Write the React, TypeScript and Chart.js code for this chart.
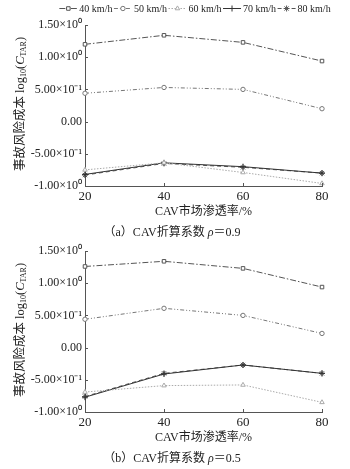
import React, { useEffect, useRef } from 'react';
import { Chart, registerables } from 'chart.js';
Chart.register(...registerables);

const categories = ['20', '40', '60', '80'];
const seriesNames = ['40 km/h', '50 km/h', '60 km/h', '70 km/h', '80 km/h'];
const yTickValues = [-1, -0.5, 0, 0.5, 1, 1.5];
const yTickLabels = ['-1.00×10⁰', '-5.00×10⁻¹', '0.00', '5.00×10⁻¹', '1.00×10⁰', '1.50×10⁰'];

// panel (a) rho = 0.9
const a40 = [1.2, 1.34, 1.23, 0.94];
const a50 = [0.44, 0.53, 0.5, 0.2];
const a60 = [-0.75, -0.64, -0.79, -0.96];
const a70 = [-0.82, -0.64, -0.7, -0.8];
const a80 = [-0.83, -0.65, -0.71, -0.8];

// panel (b) rho = 0.5
const b40 = [1.26, 1.34, 1.23, 0.94];
const b50 = [0.44, 0.61, 0.5, 0.22];
const b60 = [-0.69, -0.59, -0.58, -0.85];
const b70 = [-0.77, -0.41, -0.27, -0.4];
const b80 = [-0.76, -0.4, -0.27, -0.4];

const xTitle = 'CAV市场渗透率/%';
const captionA = ['（a）CAV折算系数 ', 'ρ', '＝0.9'];
const captionB = ['（b）CAV折算系数 ', 'ρ', '＝0.5'];

const SERIF = '"Liberation Serif", "Noto Sans CJK SC", serif';
const TEXT = '#222';
const AXIS = '#555';

const styles = [
  { color: '#555', dash: [6, 2, 1.5, 2], point: 'rect', r: 2.5 },
  { color: '#777', dash: [4, 2, 1, 2, 1, 2], point: 'circle', r: 2.2 },
  { color: '#aaa', dash: [1.5, 1.5], point: 'triangle', r: 2.6 },
  { color: '#333', dash: [], point: 'cross', r: 3 },
  { color: '#555', dash: [4, 3], point: 'star', r: 3 },
];

function drawMarker(ctx: CanvasRenderingContext2D, kind: string, cx: number, cy: number, r: number, color: string) {
  ctx.save();
  ctx.setLineDash([]);
  ctx.strokeStyle = color;
  ctx.fillStyle = '#fff';
  ctx.lineWidth = 1;
  ctx.beginPath();
  if (kind === 'rect') {
    const s = r * Math.SQRT1_2;
    ctx.rect(cx - s, cy - s, 2 * s, 2 * s);
    ctx.fill(); ctx.stroke();
  } else if (kind === 'circle') {
    ctx.arc(cx, cy, r, 0, Math.PI * 2);
    ctx.fill(); ctx.stroke();
  } else if (kind === 'triangle') {
    ctx.moveTo(cx, cy - r);
    ctx.lineTo(cx + r * 0.87, cy + r * 0.5);
    ctx.lineTo(cx - r * 0.87, cy + r * 0.5);
    ctx.closePath();
    ctx.fill(); ctx.stroke();
  } else if (kind === 'cross') {
    ctx.moveTo(cx, cy - r); ctx.lineTo(cx, cy + r);
    ctx.moveTo(cx - r, cy); ctx.lineTo(cx + r, cy);
    ctx.stroke();
  } else if (kind === 'star') {
    ctx.moveTo(cx, cy - r); ctx.lineTo(cx, cy + r);
    ctx.moveTo(cx - r, cy); ctx.lineTo(cx + r, cy);
    const d = r * 0.7;
    ctx.moveTo(cx - d, cy - d); ctx.lineTo(cx + d, cy + d);
    ctx.moveTo(cx - d, cy + d); ctx.lineTo(cx + d, cy - d);
    ctx.stroke();
  }
  ctx.restore();
}

const legendPlugin = {
  id: 'customLegend',
  afterDraw(chart: any) {
    const ctx: CanvasRenderingContext2D = chart.ctx;
    ctx.save();
    ctx.font = '10px ' + SERIF;
    ctx.textBaseline = 'middle';
    const symW = 18, gap = 2, spacing = 1.5;
    const widths = seriesNames.map((n) => symW + gap + ctx.measureText(n).width);
    const total = widths.reduce((s, w) => s + w, 0) + spacing * (widths.length - 1);
    let x = 195 - total / 2;
    const y = 8;
    seriesNames.forEach((name, i) => {
      const st = styles[i];
      ctx.strokeStyle = st.color;
      ctx.lineWidth = 1;
      ctx.setLineDash(st.dash);
      ctx.beginPath();
      ctx.moveTo(x, y + 0.5);
      ctx.lineTo(x + symW, y + 0.5);
      ctx.stroke();
      ctx.setLineDash([]);
      drawMarker(ctx, st.point, x + symW / 2, y + 0.5, st.r, st.color);
      ctx.fillStyle = TEXT;
      ctx.fillText(name, x + symW + gap, y + 1);
      x += widths[i] + spacing;
    });
    ctx.restore();
  },
};

const axisExtrasPlugin = {
  id: 'axisExtras',
  afterDraw(chart: any) {
    const ctx: CanvasRenderingContext2D = chart.ctx;
    const { left, bottom, top } = chart.chartArea;
    const xs = chart.scales.x;
    const ys = chart.scales.y;
    ctx.save();
    ctx.strokeStyle = AXIS;
    ctx.lineWidth = 1;
    ctx.setLineDash([]);
    ctx.beginPath();
    ys.ticks.forEach((t: any) => {
      const py = Math.round(ys.getPixelForValue(t.value)) + 0.5;
      ctx.moveTo(left, py);
      ctx.lineTo(left + 3, py);
    });
    xs.ticks.forEach((_t: any, i: number) => {
      const px = Math.round(xs.getPixelForTick(i)) + 0.5;
      ctx.moveTo(px, bottom);
      ctx.lineTo(px, bottom - 3);
    });
    ctx.stroke();

    // y-axis title with subscripts
    const big = '12.5px ' + SERIF;
    const small = '8px ' + SERIF;
    const parts = [
      { t: '事故风险成本 ', f: big, dy: 0 },
      { t: 'log', f: big, dy: 0 },
      { t: '10', f: small, dy: 3 },
      { t: '(', f: big, dy: 0 },
      { t: 'C', f: 'italic ' + big, dy: 0 },
      { t: 'TAR', f: small, dy: 3 },
      { t: ')', f: big, dy: 0 },
    ];
    let total = 0;
    const ws = parts.map((p) => { ctx.font = p.f; const w = ctx.measureText(p.t).width; total += w; return w; });
    ctx.translate(21, (top + bottom) / 2 - 1.5);
    ctx.rotate(-Math.PI / 2);
    ctx.fillStyle = TEXT;
    ctx.textBaseline = 'middle';
    let x = -total / 2;
    parts.forEach((p, i) => {
      ctx.font = p.f;
      ctx.fillText(p.t, x, p.dy);
      x += ws[i];
    });
    ctx.restore();
  },
};

function Panel({ series, showLegend, top }: { series: number[][]; showLegend: boolean; top: number }) {
  const ref = useRef<HTMLCanvasElement>(null);
  useEffect(() => {
    const datasets = series.map((data, i) => ({
      label: seriesNames[i],
      data,
      borderColor: styles[i].color,
      borderWidth: 1,
      borderDash: styles[i].dash,
      pointStyle: styles[i].point,
      pointRadius: styles[i].r,
      pointBorderColor: styles[i].color,
      pointBackgroundColor: '#fff',
      pointBorderWidth: 1,
      tension: 0,
      fill: false,
    }));
    const chart = new Chart(ref.current as HTMLCanvasElement, {
      type: 'line',
      data: { labels: categories, datasets },
      options: {
        responsive: false,
        animation: false,
        events: [],
        layout: { padding: { top: 25, right: 28, left: 0, bottom: 0 } },
        plugins: { legend: { display: false }, tooltip: { enabled: false } },
        scales: {
          x: {
            type: 'category',
            offset: false,
            grid: { display: false, drawTicks: false },
            border: { display: true, color: AXIS, width: 1 },
            ticks: { color: TEXT, font: { family: SERIF, size: 13 }, padding: 3, maxRotation: 0 },
            title: { display: true, text: xTitle, color: TEXT, font: { family: SERIF, size: 12 }, padding: { top: 0, bottom: 7 } },
            afterFit: (s: any) => { s.height = 40; },
          },
          y: {
            type: 'linear',
            min: -1,
            max: 1.5,
            grid: { display: false, drawTicks: false },
            border: { display: true, color: AXIS, width: 1 },
            ticks: {
              stepSize: 0.5,
              autoSkip: false,
              color: TEXT,
              padding: 3,
              font: { family: SERIF, size: 12 },
              callback: (v: any) => {
                const idx = yTickValues.findIndex((t) => Math.abs(t - Number(v)) < 1e-6);
                return idx >= 0 ? yTickLabels[idx] : '';
              },
            },
            afterFit: (s: any) => { s.width = 85; },
          },
        },
      },
      plugins: showLegend ? [axisExtrasPlugin, legendPlugin] : [axisExtrasPlugin],
    } as any);
    return () => chart.destroy();
  }, []);
  return (
    <canvas
      ref={ref}
      width={350}
      height={226}
      style={{ position: 'absolute', left: 0, top, width: 350, height: 226 }}
    />
  );
}

function Caption({ parts, centerY }: { parts: string[]; centerY: number }) {
  return (
    <div
      style={{
        position: 'absolute',
        left: -3,
        top: centerY - 8,
        width: 350,
        height: 16,
        lineHeight: '16px',
        textAlign: 'center',
        fontFamily: SERIF,
        fontSize: 12,
        color: TEXT,
        whiteSpace: 'nowrap',
      }}
    >
      {parts[0]}
      <i>{parts[1]}</i>
      {parts[2]}
    </div>
  );
}

export default function App() {
  return (
    <div style={{ position: 'absolute', left: 0, top: 0, width: 350, height: 469, background: '#fff', overflow: 'hidden' }}>
      <Panel series={[a40, a50, a60, a70, a80]} showLegend={true} top={0} />
      <Panel series={[b40, b50, b60, b70, b80]} showLegend={false} top={226} />
      <Caption parts={captionA} centerY={231.7} />
      <Caption parts={captionB} centerY={458.3} />
    </div>
  );
}
